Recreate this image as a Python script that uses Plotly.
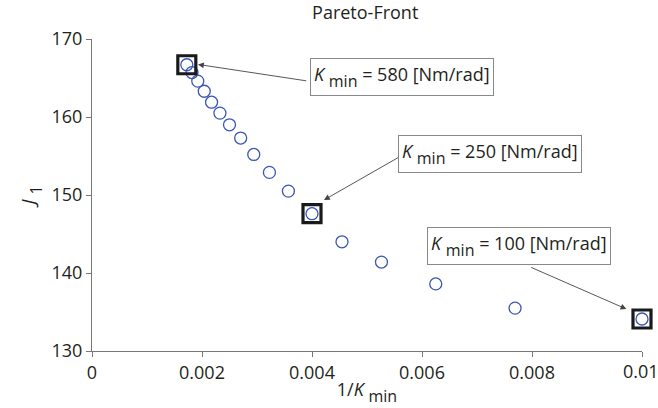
import plotly.graph_objects as go

# data
inv_k = [0.001724, 0.001818, 0.001923, 0.002041, 0.002174, 0.002326, 0.0025,
         0.002703, 0.002941, 0.003226, 0.003571, 0.004, 0.004545, 0.005263,
         0.00625, 0.007692, 0.01]
j1 = [166.7, 165.7, 164.6, 163.3, 161.9, 160.5, 159.0, 157.3, 155.2, 152.9,
      150.5, 147.6, 144.0, 141.4, 138.6, 135.5, 134.1]
highlight_idx = [0, 11, 16]
SUB = "<sub><sub><span style='font-size:16px'>min</span></sub></sub>"
labels = ["<i>K</i> " + SUB + " = 580 [Nm/rad]",
          "<i>K</i> " + SUB + " = 250 [Nm/rad]",
          "<i>K</i> " + SUB + " = 100 [Nm/rad]"]
label_pos = [(0.005631, 165.1), (0.007244, 155.31), (0.007762, 143.45)]
arrow_tail = [(0.003922, 164.61), (0.005595, 154.91), (0.007958, 140.80)]
arrow_head = [(0.001927, 166.74), (0.004218, 149.36), (0.009716, 135.38)]
x_ticks = [0, 0.002, 0.004, 0.006, 0.008, 0.01]
x_ticktext = ["0", "0.002", "0.004", "0.006", "0.008", ""]
last_tick_label = "0.01"
y_ticks = [130, 140, 150, 160, 170]

FONT = "Open Sans"
TXT = "#231f20"
AX = "#777777"

fig = go.Figure()
fig.add_trace(go.Scatter(
    x=inv_k, y=j1, mode="markers",
    marker=dict(symbol="circle-open", size=12, color="#3a57b5",
                line=dict(width=1.3, color="#3a57b5")),
    cliponaxis=False, showlegend=False, hoverinfo="skip"))
fig.add_trace(go.Scatter(
    x=[inv_k[i] for i in highlight_idx], y=[j1[i] for i in highlight_idx],
    mode="markers",
    marker=dict(symbol="square-open", size=18, color="#1a1a1a",
                line=dict(width=3.2, color="#1a1a1a")),
    cliponaxis=False, showlegend=False, hoverinfo="skip"))

annotations = []
for (hx, hy), (tx, ty) in zip(arrow_head, arrow_tail):
    annotations.append(dict(x=hx, y=hy, ax=tx, ay=ty, xref="x", yref="y",
                            axref="x", ayref="y", text="", showarrow=True,
                            arrowhead=2, arrowsize=1.3, arrowwidth=0.9,
                            arrowcolor="#444444", standoff=0, startstandoff=0))
for lab, (lx, ly) in zip(labels, label_pos):
    annotations.append(dict(x=lx, y=ly, xref="x", yref="y", text=lab,
                            showarrow=False, bgcolor="white",
                            bordercolor="#888888", borderwidth=1, borderpad=3,
                            font=dict(family=FONT, size=18, color=TXT)))
# last x tick label (would otherwise be hidden at the paper edge)
annotations.append(dict(x=x_ticks[-1], y=0, xref="x", yref="paper",
                        text=last_tick_label, showarrow=False,
                        xanchor="center", yanchor="top", yshift=-6, xshift=-1,
                        font=dict(family=FONT, size=18, color=TXT)))

fig.update_layout(
    width=658, height=408,
    margin=dict(l=92.3, r=16, t=38.7, b=54.7),
    paper_bgcolor="white", plot_bgcolor="white",
    title=dict(text="Pareto-Front", x=0.555, xanchor="center", y=0.985,
               yanchor="top", font=dict(family=FONT, size=18, color=TXT)),
    font=dict(family=FONT, size=18, color=TXT),
    annotations=annotations,
    xaxis=dict(range=[0, 0.01], tickvals=x_ticks, ticktext=x_ticktext,
               showgrid=False, zeroline=False, showline=True, linecolor=AX,
               linewidth=1, ticks="outside", ticklen=5, tickcolor=AX,
               tickfont=dict(family=FONT, size=18, color=TXT),
               title=dict(text="1/<i>K</i> " + SUB, standoff=0,
                          font=dict(family=FONT, size=18, color=TXT))),
    yaxis=dict(range=[130, 170], tickvals=y_ticks,
               showgrid=False, zeroline=False, showline=True, linecolor=AX,
               linewidth=1, ticks="outside", ticklen=5, tickcolor=AX,
               tickfont=dict(family=FONT, size=18, color=TXT),
               title=dict(text="<i>J</i> <sub><sub><span style='font-size:16px'>1</span></sub></sub>",
                          standoff=10,
                          font=dict(family=FONT, size=19, color=TXT))),
)

fig.write_html("out.html", config={"displayModeBar": False},
               post_script="document.body.style.margin='0';")
